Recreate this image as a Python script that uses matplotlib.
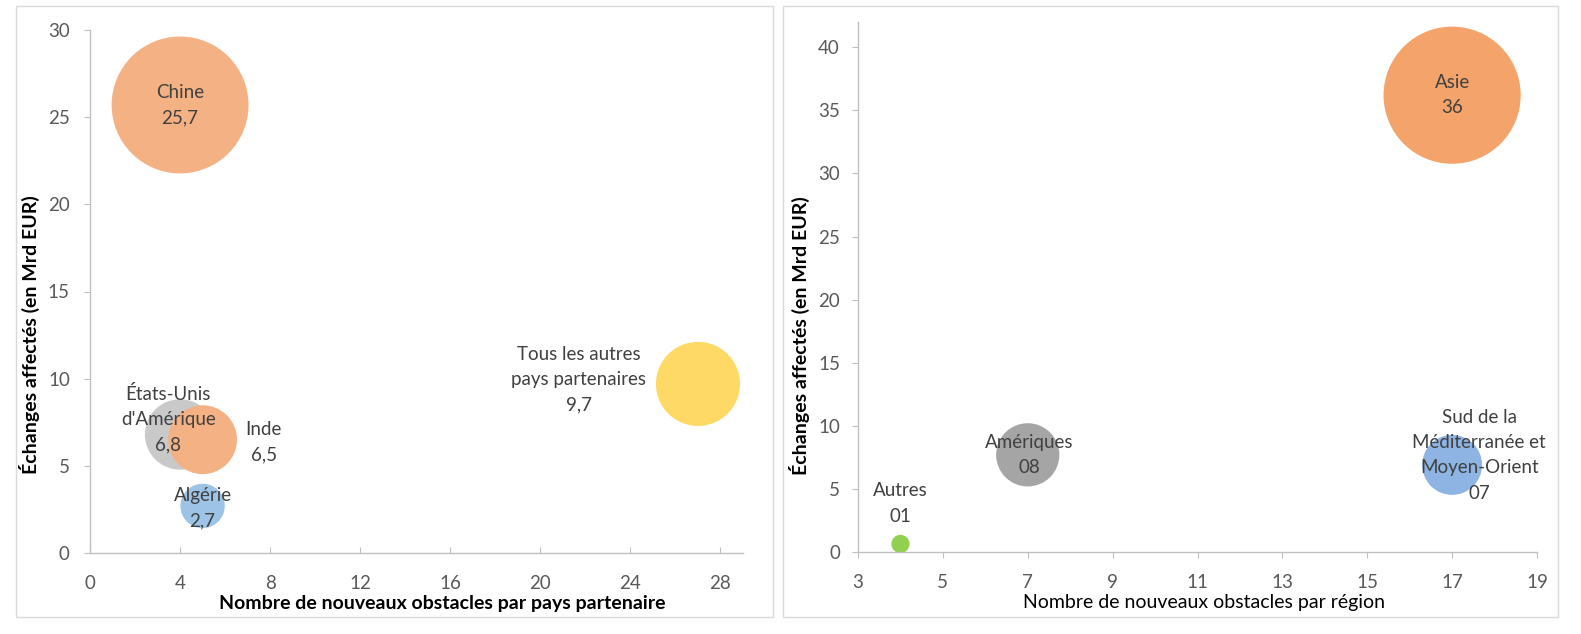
import numpy as np
import matplotlib
matplotlib.use("Agg")
import matplotlib.pyplot as plt
from matplotlib.patches import Rectangle

plt.rcParams['font.family'] = ['Lato', 'DejaVu Sans']

# left panel: partner countries
pays = ["Chine", "États-Unis\nd'Amérique", "Inde", "Algérie", "Tous les autres\npays partenaires"]
pays_obstacles = [4, 4, 5, 5, 27]
pays_echanges = [25.7, 6.8, 6.5, 2.7, 9.7]
pays_labels = ["25,7", "6,8", "6,5", "2,7", "9,7"]
pays_colors = ["#F4B183", "#C9C9C9", "#F4B183", "#9DC3E6", "#FFD966"]

# right panel: regions
regions = ["Autres", "Amériques", "Asie", "Sud de la\nMéditerranée et\nMoyen-Orient"]
reg_obstacles = [4, 7, 17, 17]
reg_echanges = [0.64, 7.7, 36.2, 6.9]
reg_labels = ["01", "08", "36", "07"]
reg_colors = ["#92D050", "#A5A5A5", "#F4A46A", "#8DB4E2"]

TXT = "#404040"
TICK = "#595959"
AXC = "#BFBFBF"
W, H = 1581, 634


def bubble_sizes(vals, px_per_sqrt):
    d_pt = px_per_sqrt * np.sqrt(np.array(vals)) * 72 / 100
    return d_pt ** 2


def axes_box(x0, x1, ytop, ybot):
    return [x0 / W, (H - ybot) / H, (x1 - x0) / W, (ybot - ytop) / H]


def style_axes(ax, xdir, xpad, ypad):
    for s in ["top", "right"]:
        ax.spines[s].set_visible(False)
    for s in ["left", "bottom"]:
        ax.spines[s].set_color(AXC)
        ax.spines[s].set_linewidth(1.0)
    ax.tick_params(axis="x", direction=xdir, length=4.5, color=AXC, labelsize=13.5,
                   labelcolor=TICK, pad=xpad)
    ax.tick_params(axis="y", direction="out", length=4.5, color=AXC, labelsize=13.5,
                   labelcolor=TICK, pad=ypad)


fig = plt.figure(figsize=(W / 100, H / 100), dpi=100)

# panel frames
for x0, x1 in [(16, 773), (783, 1558)]:
    fig.patches.append(Rectangle((x0 / W, (H - 617) / H), (x1 - x0) / W, (617 - 6) / H,
                                 transform=fig.transFigure, fill=False,
                                 edgecolor="#D9D9D9", linewidth=1.0))

# ---- left
ax1 = fig.add_axes(axes_box(90, 743, 30, 553))
ax1.scatter(pays_obstacles, pays_echanges, s=bubble_sizes(pays_echanges, 27.0),
            c=pays_colors, linewidths=0, zorder=2, clip_on=False)
ax1.set_xlim(0, 29)
ax1.set_ylim(0, 30)
ax1.set_xticks(np.arange(0, 29, 4))
ax1.set_yticks(np.arange(0, 31, 5))
style_axes(ax1, "in", 16, 10)
ax1.set_xlabel("Nombre de nouveaux obstacles par pays partenaire", fontsize=14,
               fontweight="bold", color="black")
ax1.set_ylabel("Échanges affectés (en Mrd EUR)", fontsize=14,
               fontweight="bold", color="black")
ax1.xaxis.set_label_coords(0.539, -0.080)
ax1.yaxis.set_label_coords(-0.077, 0.417)

offsets1 = [(0, 0), (-8.5, 11), (44, -2), (0, -1.5), (-86, 3)]
for name, x, y, lab, off in zip(pays, pays_obstacles, pays_echanges, pays_labels, offsets1):
    ax1.annotate(name + "\n" + lab, (x, y), xytext=off, textcoords="offset points",
                 ha="center", va="center", fontsize=13.5, color=TXT, linespacing=1.6,
                 zorder=3)

# ---- right
ax2 = fig.add_axes(axes_box(858, 1537, 22, 552))
ax2.scatter(reg_obstacles, reg_echanges, s=bubble_sizes(reg_echanges, 22.8),
            c=reg_colors, linewidths=0, zorder=2, clip_on=False)
ax2.set_xlim(3, 19)
ax2.set_ylim(0, 42)
ax2.set_xticks(np.arange(3, 20, 2))
ax2.set_yticks(np.arange(0, 41, 5))
style_axes(ax2, "out", 11, 8.5)
ax2.set_xlabel("Nombre de nouveaux obstacles par région", fontsize=14,
               color="black")
ax2.set_ylabel("Échanges affectés (en Mrd EUR)", fontsize=14,
               fontweight="bold", color="black")
ax2.xaxis.set_label_coords(0.51, -0.079)
ax2.yaxis.set_label_coords(-0.071, 0.409)

offsets2 = [(0, 29), (1, 0), (0, 0), (19.5, 7)]
for name, x, y, lab, off in zip(regions, reg_obstacles, reg_echanges, reg_labels, offsets2):
    ax2.annotate(name + "\n" + lab, (x, y), xytext=off, textcoords="offset points",
                 ha="center", va="center", fontsize=13.5, color=TXT, linespacing=1.6,
                 zorder=3)

fig.savefig("out.png", dpi=100)
